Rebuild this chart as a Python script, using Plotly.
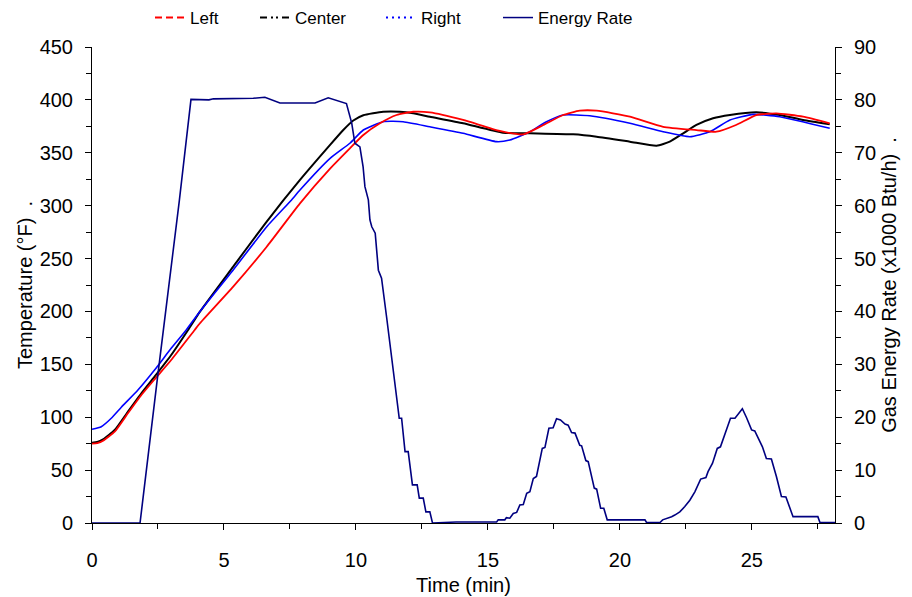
import plotly.graph_objects as go

# ---- data ----
left_t = [0, 0.2, 0.42, 0.86, 1.36, 1.87, 2.37, 3.0, 3.89, 4.09, 5.35, 6.62, 7.88, 9.02, 9.77,
          10.28, 10.91, 11.54, 12.17, 12.8, 14.06, 15.45, 16.34, 17.1, 17.85, 18.48, 19.12,
          20.38, 21.64, 22.9, 23.66, 24.4, 25.17, 25.93, 26.94, 27.95]
left_T = [75, 75.6, 77.8, 86.3, 103.7, 121, 135.8, 154.1, 182.5, 188.8, 223.4, 261.2, 302.2, 335, 354.2,
          366.8, 377.9, 385.7, 388.8, 388.2, 381, 370.6, 367.4, 376.3, 385.7, 389.8, 389.8,
          384.1, 374.6, 371.5, 369.9, 376.3, 385.7, 387.3, 384.1, 377.9]

center_t = [0, 0.2, 0.42, 0.86, 1.36, 1.87, 2.37, 3.0, 3.64, 4.09, 5.35, 6.62, 7.88, 9.02,
            9.52, 9.9, 10.28, 11.03, 11.67, 12.17, 12.8, 14.06, 15.57, 16.59, 18.23, 19.12,
            20.38, 21.39, 21.89, 22.4, 22.9, 23.53, 24.17, 25.17, 26.06, 26.94, 27.95]
center_T = [75.8, 76.5, 79.1, 87.9, 105.2, 122.6, 138.3, 158.8, 182.5, 199.8, 242.4, 285, 324.3, 357.4,
            371.5, 380.5, 385.5, 388.8, 388.8, 387.3, 384.1, 377.9, 369, 368.4, 367.4, 365.2,
            360.5, 356.7, 360.5, 368.4, 376.3, 382.6, 385.7, 388.2, 385.7, 381, 376.9]

right_t = [0, 0.35, 0.73, 1.11, 1.74, 2.37, 3.0, 3.57, 4.09, 5.35, 6.62, 7.56, 7.88, 9.02, 9.77,
           10.28, 11.03, 11.79, 12.8, 14.06, 15.33, 15.83, 16.59, 17.22, 17.85, 18.86, 20.38,
           21.64, 22.65, 23.41, 24.17, 25.05, 26.06, 27.95]
right_T = [88.6, 91, 99, 109.4, 125.7, 144.6, 165.1, 182.5, 200, 239.2, 280.1, 305.4, 314.8, 344.7, 359,
           371.5, 379.4, 379.4, 374.6, 368.4, 360.5, 362.1, 369.9, 379.4, 385.7, 385, 377.9,
           369.9, 365.2, 369.9, 381, 386.3, 384.1, 373.1]

energy_t = [0, 1.82, 2.47, 3.31, 3.75, 4.43, 4.6, 6.11, 6.55, 7.12, 8.45, 8.95, 9.64, 9.84, 9.96,
            10.15, 10.27, 10.34, 10.47, 10.53, 10.6, 10.73, 10.85, 10.97, 11.16, 11.35, 11.5, 11.64,
            11.73, 11.86, 11.98, 12.14, 12.32, 12.4, 12.55, 12.65, 12.8, 12.9, 13.8, 15.33,
            15.39, 15.64, 15.7, 15.83, 15.96, 16.09, 16.21, 16.34, 16.47, 16.59, 16.72, 16.84,
            17.06, 17.16, 17.31, 17.47, 17.6, 17.75, 17.92, 18.04, 18.17, 18.3, 18.48, 18.55,
            18.71, 18.8, 19.03, 19.12, 19.27, 19.39, 19.52, 20.95, 21.01, 21.52, 21.62, 21.83,
            21.96, 22.08, 22.27, 22.46, 22.65, 22.84, 23.06, 23.26, 23.34, 23.51, 23.69, 23.81,
            23.98, 24.19, 24.36, 24.52, 24.64, 24.8, 24.99, 25.11, 25.24, 25.4, 25.55, 25.74,
            25.93, 26.12, 26.29, 26.44, 26.56, 27.5, 27.58, 28.15]
energy_E = [0, 0, 27, 61, 80.1, 80.0, 80.2, 80.3, 80.5, 79.4, 79.4, 80.4, 79.3, 75.6, 71.8,
            71.1, 67.4, 63.6, 61.1, 57.3, 56, 54.8, 47.8, 46.3, 39, 31.4, 25.1, 19.8,
            19.8, 13.5, 13.5, 7.2, 7.2, 4.7, 4.7, 2.1, 2.1, 0, 0.2, 0.2,
            0.6, 0.6, 1.0, 0.9, 1.8, 2.0, 3.4, 3.5, 5.6, 5.9, 8.4, 8.8,
            14.1, 14.3, 17.9, 18.0, 19.7, 19.5, 18.7, 18.5, 17.1, 17.0, 14.7, 14.6,
            11.8, 11.6, 6.6, 6.4, 2.8, 2.8, 0.6, 0.6, 0.1, 0.1, 0.6, 0.9,
            1.2, 1.5, 2.1, 3.1, 4.3, 5.9, 8.3, 8.6, 9.7, 11.3, 14.1, 14.4,
            16.8, 19.8, 19.8, 20.9, 21.6, 19.9, 17.6, 17.4, 16.0, 14.4, 12.2, 12.1,
            8.8, 5.0, 4.9, 2.8, 1.2, 1.2, 0.1, 0.1]

x_ticks = [0, 5, 10, 15, 20, 25]
FONT = "Liberation Sans, Arial, sans-serif"

RED, BLACK, BLUE, NAVY = "#ff0000", "#000000", "#0000ff", "#000080"

fig = go.Figure()
fig.add_trace(go.Scatter(x=energy_t, y=energy_E, mode="lines", yaxis="y2",
                         line=dict(color=NAVY, width=1.6), showlegend=False, name="Energy Rate"))
fig.add_trace(go.Scatter(x=center_t, y=center_T, mode="lines", line=dict(color=BLACK, width=2, shape="spline", smoothing=0.5),
                         showlegend=False, name="Center"))
fig.add_trace(go.Scatter(x=right_t, y=right_T, mode="lines", line=dict(color=BLUE, width=1.6, shape="spline", smoothing=0.5),
                         showlegend=False, name="Right"))
fig.add_trace(go.Scatter(x=left_t, y=left_T, mode="lines", line=dict(color=RED, width=1.8, shape="spline", smoothing=0.5),
                         showlegend=False, name="Left"))

# legend entries
leg = [("Left", RED, "7px,4px", 2, "legend"),
       ("Center", BLACK, "7px,4px,2px,3px,2px,4px", 2, "legend2"),
       ("Right", BLUE, "2px,4px", 2, "legend3"),
       ("Energy Rate", NAVY, "solid", 1.5, "legend4")]
for name, col, dash, w, lg in leg:
    fig.add_trace(go.Scatter(x=[None], y=[None], mode="lines", name=name,
                             line=dict(color=col, dash=dash, width=w), legend=lg, showlegend=True))

OFF = 8  # page body margin
W, H = 912, 597
L, R, T, B = 92 - OFF, 835 - OFF, 47 - OFF, 523 - OFF
def px_x(p):
    return (p - OFF - L) / (R - L)
leg_y = (B - (18 - OFF)) / (B - T)
lf = dict(family=FONT, size=17, color="black")
common_leg = dict(orientation="h", yanchor="middle", y=leg_y, xanchor="left", font=lf,
                  bgcolor="rgba(0,0,0,0)", borderwidth=0)

axis_common = dict(showline=True, linecolor="black", linewidth=1, ticks="outside", ticklen=6,
                   tickcolor="black", showgrid=False, zeroline=False,
                   tickfont=dict(family=FONT, size=20, color="black"))

fig.update_layout(
    width=W, height=H,
    margin=dict(l=L, r=W - R, t=T, b=H - B, autoexpand=False),
    paper_bgcolor="white", plot_bgcolor="white",
    font=dict(family=FONT, size=20, color="black"),
    xaxis=dict(range=[0, 28.15], tickvals=x_ticks, ticklabelstandoff=13,
               title=dict(text="Time (min)", font=dict(size=20), standoff=7),
               minor=dict(dtick=2.5, tick0=0, ticks="outside", ticklen=5, tickcolor="black"), **axis_common),
    yaxis=dict(range=[0, 450], dtick=50, ticklabelstandoff=8,
               title=dict(text="Temperature (°F)  .", font=dict(size=20), standoff=1),
               minor=dict(dtick=25, ticks="outside", ticklen=5, tickcolor="black"), **axis_common),
    yaxis2=dict(range=[0, 90], dtick=10, overlaying="y", side="right", anchor="x", ticklabelstandoff=8,
                title=dict(text="Gas Energy Rate (x1000 Btu/h)  .", font=dict(size=20), standoff=6),
                minor=dict(dtick=5, ticks="outside", ticklen=5, tickcolor="black"), **axis_common),
    legend=dict(x=px_x(150), **common_leg),
    legend2=dict(x=px_x(255), **common_leg),
    legend3=dict(x=px_x(381), **common_leg),
    legend4=dict(x=px_x(498), **common_leg),
)

fig.write_html("out.html")
